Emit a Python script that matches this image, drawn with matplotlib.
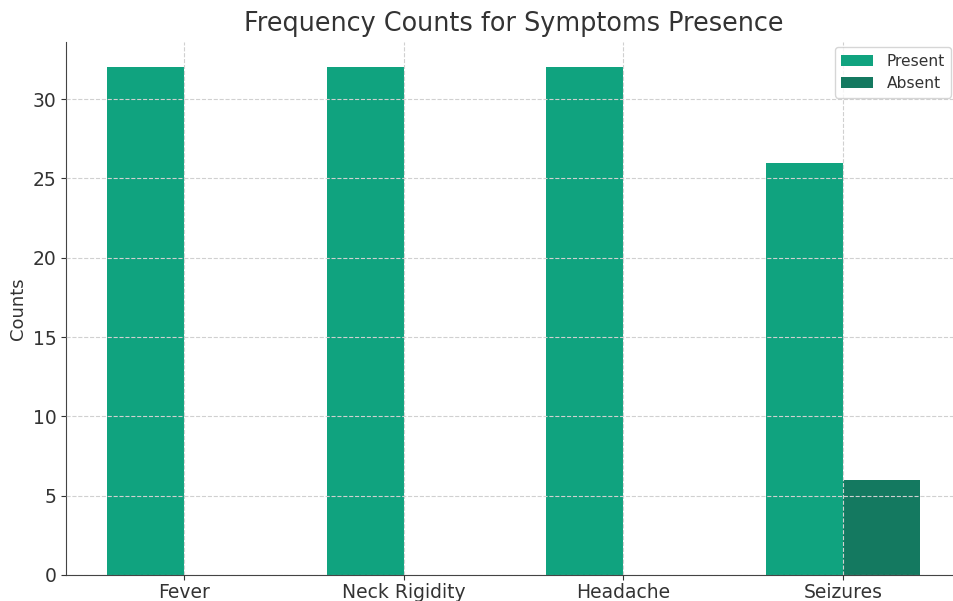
import numpy as np
import matplotlib.pyplot as plt

sintomas = ['Fever', 'Neck Rigidity', 'Headache', 'Seizures']
presente = [32, 32, 32, 26]
ausente = [0, 0, 0, 6]

cor_texto = '#333333'
largura = 0.35

fig = plt.figure(figsize=(9.54, 6.01), dpi=100)
ax = fig.add_axes([66 / 954, 26 / 601, 895 / 954, 533 / 601])

x = np.arange(len(sintomas))
ax.bar(x - largura, presente, largura, align='edge', color='#10a37f', label='Present', zorder=1)
ax.bar(x, ausente, largura, align='edge', color='#147960', label='Absent', zorder=1)

ax.set_xticks(x)
ax.set_xticklabels(sintomas)
ax.set_ylabel('Counts', fontsize=13, color=cor_texto)
ax.set_title('Frequency Counts for Symptoms Presence', fontsize=18.4, color=cor_texto, pad=8)

ax.grid(True, linestyle='--', color='#d0d0d0', linewidth=0.8, zorder=2)
ax.set_axisbelow(False)
ax.tick_params(labelsize=13.5, colors=cor_texto)
ax.tick_params(axis='x', pad=2)
for lado in ['top', 'right']:
    ax.spines[lado].set_visible(False)
for lado in ['left', 'bottom']:
    ax.spines[lado].set_color('#444444')

leg = ax.legend(loc='upper right', bbox_to_anchor=(0.989, 0.99), borderaxespad=0,
                fontsize=11.2, handlelength=2.1, handletextpad=0.85)
for t in leg.get_texts():
    t.set_color(cor_texto)

fig.savefig('out.png', dpi=100)
